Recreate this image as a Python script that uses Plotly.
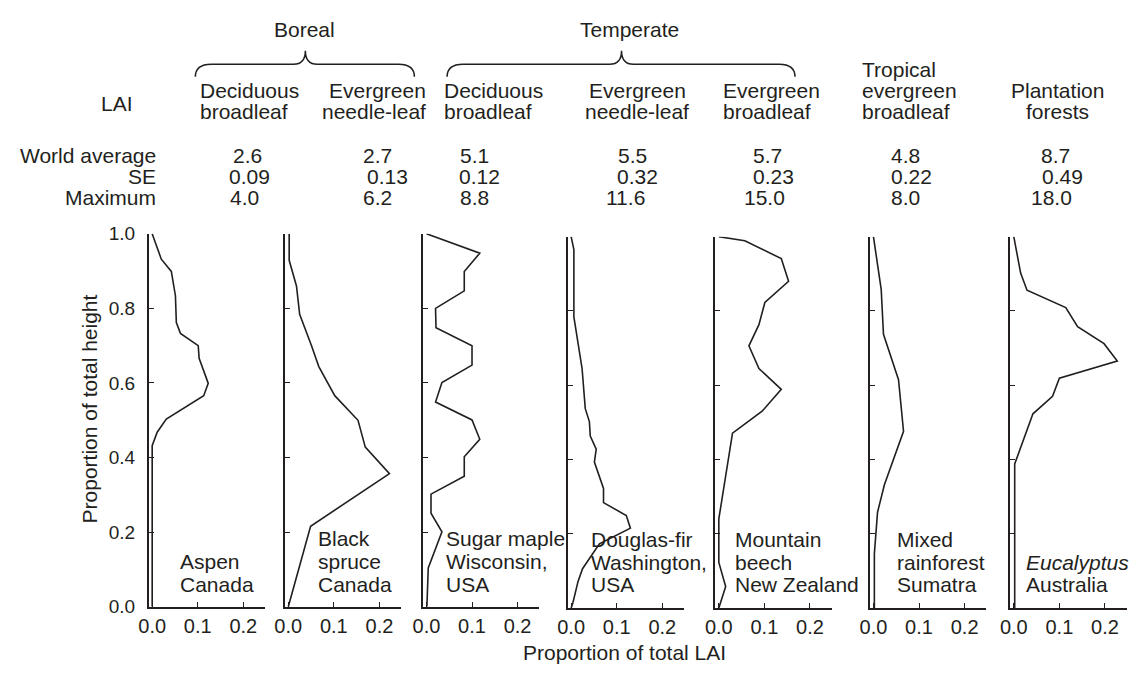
import plotly.graph_objects as go

W, H = 1131, 673

# ---- Canopy LAI profiles: proportion of total LAI (x) against proportion of total height (y)
aspen_height = [1.0, 0.932, 0.899, 0.834, 0.762, 0.733, 0.700, 0.666, 0.599, 0.566, 0.503, 0.468, 0.432, 0.0]
aspen_lai = [0.0, 0.020, 0.042, 0.051, 0.053, 0.062, 0.101, 0.103, 0.123, 0.113, 0.031, 0.011, 0.0, 0.0]

spruce_height = [1.0, 0.929, 0.860, 0.784, 0.700, 0.644, 0.566, 0.500, 0.428, 0.357, 0.216, 0.0]
spruce_lai = [0.002, 0.002, 0.018, 0.025, 0.051, 0.067, 0.102, 0.153, 0.169, 0.222, 0.049, 0.0]

maple_height = [1.0, 0.948, 0.899, 0.847, 0.800, 0.748, 0.700, 0.648, 0.601, 0.549,
                0.501, 0.449, 0.402, 0.350, 0.302, 0.251, 0.201, 0.104, 0.0]
maple_lai = [0.0, 0.117, 0.083, 0.083, 0.020, 0.021, 0.100, 0.100, 0.034, 0.020,
             0.100, 0.117, 0.083, 0.083, 0.010, 0.010, 0.034, 0.004, 0.001]

fir_height = [1.0, 0.965, 0.784, 0.645, 0.537, 0.502, 0.463, 0.428, 0.393, 0.358,
              0.322, 0.284, 0.249, 0.215, 0.173, 0.106, 0.071, 0.015, 0.0]
fir_lai = [0.0, 0.006, 0.006, 0.024, 0.031, 0.040, 0.042, 0.055, 0.051, 0.061,
           0.071, 0.071, 0.121, 0.130, 0.062, 0.025, 0.015, 0.004, 0.0]

beech_height = [1.0, 0.989, 0.941, 0.880, 0.823, 0.763, 0.706, 0.645, 0.589, 0.530,
                0.471, 0.240, 0.123, 0.058, 0.0]
beech_lai = [0.0, 0.057, 0.137, 0.153, 0.101, 0.088, 0.066, 0.088, 0.137, 0.095,
             0.030, 0.0, 0.0, 0.015, 0.0]

rainforest_height = [1.0, 0.858, 0.737, 0.615, 0.476, 0.380, 0.332, 0.258, 0.146, 0.0]
rainforest_lai = [0.0, 0.017, 0.022, 0.055, 0.066, 0.038, 0.024, 0.009, 0.002, 0.002]

eucalyptus_height = [1.0, 0.902, 0.856, 0.809, 0.758, 0.712, 0.665, 0.619, 0.570, 0.523, 0.388, 0.0]
eucalyptus_lai = [0.0, 0.015, 0.029, 0.114, 0.140, 0.198, 0.227, 0.100, 0.085, 0.042, 0.002, 0.002]

profiles_lai = [aspen_lai, spruce_lai, maple_lai, fir_lai, beech_lai, rainforest_lai, eucalyptus_lai]
profiles_height = [aspen_height, spruce_height, maple_height, fir_height, beech_height,
                   rainforest_height, eucalyptus_height]

site_names = [
    ["Aspen", "Canada"],
    ["Black", "spruce", "Canada"],
    ["Sugar maple", "Wisconsin,", "USA"],
    ["Douglas-fir", "Washington,", "USA"],
    ["Mountain", "beech", "New Zealand"],
    ["Mixed", "rainforest", "Sumatra"],
    ["<i>Eucalyptus</i>", "Australia"],
]

# ---- LAI summary table above the panels
biome_groups = ["Boreal", "Temperate"]
forest_types = [
    ["Deciduous", "broadleaf"],
    ["Evergreen", "needle-leaf"],
    ["Deciduous", "broadleaf"],
    ["Evergreen", "needle-leaf"],
    ["Evergreen", "broadleaf"],
    ["Tropical", "evergreen", "broadleaf"],
    ["Plantation", "forests"],
]
world_average = [2.6, 2.7, 5.1, 5.5, 5.7, 4.8, 8.7]
std_error = [0.09, 0.13, 0.12, 0.32, 0.23, 0.22, 0.49]
maximum_lai = [4.0, 6.2, 8.8, 11.6, 15.0, 8.0, 18.0]
row_labels = ["World average", "SE", "Maximum"]

x_ticks = [0.0, 0.1, 0.2]
y_ticks = [0.0, 0.2, 0.4, 0.6, 0.8, 1.0]

# ---- layout geometry (pixels)
INK = "#231f20"
FONT = "Liberation Sans, Arial, Helvetica, sans-serif"
panel_left = [140, 277.3, 416.7, 562.7, 711.7, 867.7, 1009.3]
panel_width = 117.5
panel_top = [231, 231, 231, 234, 234, 234, 234]
panel_bottom = [616, 616, 616, 617.3, 617.3, 617.3, 617.3]
x_range = [-0.0075, 0.248]


def fx(p):
    return p / W


def fy(p):
    return 1 - p / H


fig = go.Figure()

for i in range(7):
    n = "" if i == 0 else str(i + 1)
    fig.add_trace(go.Scatter(
        x=profiles_lai[i], y=profiles_height[i], mode="lines",
        line=dict(color=INK, width=1.6), xaxis="x" + n, yaxis="y" + n,
        showlegend=False, hoverinfo="skip", cliponaxis=False,
    ))
    xa = dict(
        domain=[fx(panel_left[i]), fx(panel_left[i] + panel_width)], range=x_range,
        anchor="y" + n, showline=True, linecolor=INK, linewidth=1.6,
        ticks="inside", ticklen=5, tickwidth=1.4, tickcolor=INK,
        tickvals=x_ticks, ticktext=[f"{v:.1f}" for v in x_ticks],
        tickfont=dict(family=FONT, size=20, color=INK),
        showgrid=False, zeroline=False, fixedrange=True,
    )
    ya = dict(
        domain=[fy(panel_bottom[i]), fy(panel_top[i])], range=[0, 1],
        anchor="x" + n, showline=True, linecolor=INK, linewidth=1.6,
        ticks="inside", ticklen=5, tickwidth=1.4, tickcolor=INK,
        tickvals=y_ticks, ticktext=[f"{v:.1f}" for v in y_ticks],
        showticklabels=(i == 0), ticklabelstandoff=8,
        tickfont=dict(family=FONT, size=19, color=INK),
        showgrid=False, zeroline=False, fixedrange=True,
    )
    fig.update_layout(**{"xaxis" + n: xa, "yaxis" + n: ya})

annotations = []


def text(x, y, s, anchor="left", size=21, angle=0):
    annotations.append(dict(
        x=fx(x), y=fy(y), xref="paper", yref="paper", text=s, showarrow=False,
        xanchor=anchor, yanchor="middle", textangle=angle,
        font=dict(family=FONT, size=size, color=INK),
    ))


# site names inside each panel
site_x = [169, 309, 437.7, 584.3, 729.3, 892.7, 1023.3]
for i, lines in enumerate(site_names):
    bottom = 592.5 if i < 3 else 593.3
    for k, s in enumerate(lines):
        text(site_x[i], bottom - 23.3 * (len(lines) - 1 - k), s)

# axis titles
text(80, 412, "Proportion of total height", anchor="center", angle=-90)
text(620, 663, "Proportion of total LAI", anchor="center")

# group titles and braces
text(297, 20, biome_groups[0], anchor="center")
text(625, 20, biome_groups[1], anchor="center")


def brace_path(x0, xt, x1, y_end, y_mid, y_tip, r=16, rt=12):
    pts = [
        ("M", [(x0, y_end)]),
        ("Q", [(x0, y_mid), (x0 + r, y_mid)]),
        ("L", [(xt - rt, y_mid)]),
        ("Q", [(xt, y_mid), (xt, y_tip)]),
        ("Q", [(xt, y_mid), (xt + rt, y_mid)]),
        ("L", [(x1 - r, y_mid)]),
        ("Q", [(x1, y_mid), (x1, y_end)]),
    ]
    out = []
    for cmd, coords in pts:
        out.append(cmd + " " + " ".join(f"{fx(a):.5f},{fy(b):.5f}" for a, b in coords))
    return " ".join(out)


shapes = [
    dict(type="path", xref="paper", yref="paper",
         path=brace_path(187, 298, 408, 69, 56, 42), line=dict(color=INK, width=1.5)),
    dict(type="path", xref="paper", yref="paper",
         path=brace_path(441, 617, 792, 69, 56, 42), line=dict(color=INK, width=1.5)),
]

# forest-type column headers
header_x = [190, 422, 436, 633, 717, 858, 1057]
header_anchor = ["left", "right", "left", "center", "left", "left", "center"]
for i, lines in enumerate(forest_types):
    for k, s in enumerate(lines):
        y = 105 - 22 * (len(lines) - 1 - k)
        text(header_x[i], y, s, anchor=header_anchor[i])

text(108, 97, "LAI", anchor="center")

# summary rows
row_y = [150, 172, 194]
for r, lab in enumerate(row_labels):
    text(149, row_y[r], lab, anchor="right")

avg_x = [223, 354, 452, 611, 748, 887, 1038]
se_x = [219, 358, 451, 610, 748, 887, 1039]
max_x = [220, 354, 452, 599, 739, 887, 1028]
for i in range(7):
    text(avg_x[i], row_y[0], f"{world_average[i]:.1f}")
    text(se_x[i], row_y[1], f"{std_error[i]:.2f}")
    text(max_x[i], row_y[2], f"{maximum_lai[i]:.1f}")

fig.update_layout(
    width=W, height=H, autosize=False,
    margin=dict(l=0, r=0, t=0, b=0),
    paper_bgcolor="white", plot_bgcolor="white",
    annotations=annotations, shapes=shapes,
    font=dict(family=FONT, color=INK),
)

fig.write_html("out.html")
